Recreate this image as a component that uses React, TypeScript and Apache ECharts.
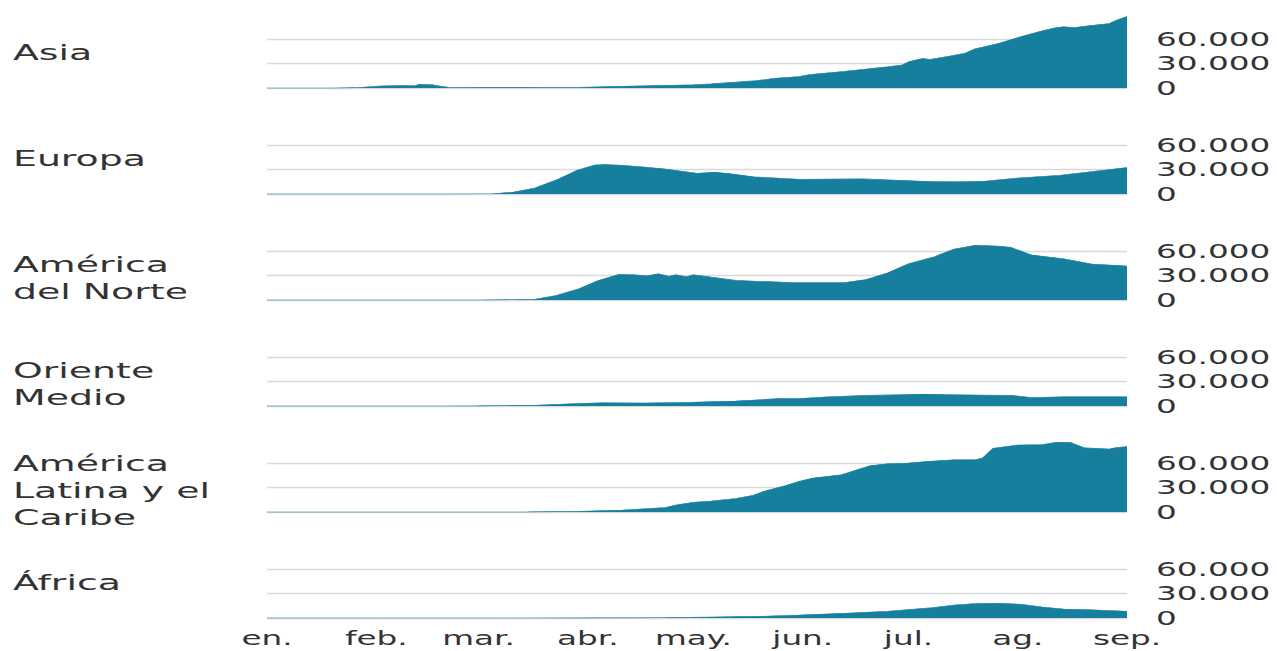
import React, { useEffect, useRef } from "react";
import * as echarts from "echarts";

// ---------- data ----------
const regionNames = [
  "Asia",
  "Europa",
  "América\ndel Norte",
  "Oriente\nMedio",
  "América\nLatina y el\nCaribe",
  "África",
];

const monthStarts = [
  "2020-01-01", "2020-02-01", "2020-03-01", "2020-04-01", "2020-05-01",
  "2020-06-01", "2020-07-01", "2020-08-01", "2020-09-01",
];
const monthLabels = ["en.", "feb.", "mar.", "abr.", "may.", "jun.", "jul.", "ag.", "sep."];

const yTickValues = [0, 30000, 60000];
const yTickLabels = ["0", "30.000", "60.000"];

const asia: [string, number][] = [
  ["2020-01-01", 0], ["2020-01-20", 50], ["2020-01-26", 400], ["2020-01-30", 1500],
  ["2020-02-03", 2600], ["2020-02-08", 2900], ["2020-02-12", 2800], ["2020-02-13", 4300],
  ["2020-02-17", 4000], ["2020-02-19", 2500], ["2020-02-22", 700], ["2020-03-01", 500],
  ["2020-03-15", 500], ["2020-03-30", 1000], ["2020-04-11", 2000], ["2020-05-01", 4000],
  ["2020-05-06", 5000], ["2020-05-19", 9000], ["2020-05-24", 12000], ["2020-05-31", 14000],
  ["2020-06-03", 16600], ["2020-06-13", 20600], ["2020-06-25", 26000], ["2020-06-29", 28000],
  ["2020-07-01", 32000], ["2020-07-05", 36000], ["2020-07-07", 35000], ["2020-07-14", 40000],
  ["2020-07-17", 42500], ["2020-07-20", 48000], ["2020-07-27", 55000], ["2020-08-02", 63000],
  ["2020-08-08", 70000], ["2020-08-12", 74000], ["2020-08-14", 75000], ["2020-08-17", 74000],
  ["2020-08-23", 77000], ["2020-08-27", 79000], ["2020-08-29", 83000], ["2020-09-01", 87500],
];

const europa: [string, number][] = [
  ["2020-01-01", 0], ["2020-02-20", 0], ["2020-03-05", 300], ["2020-03-11", 2500],
  ["2020-03-17", 7400], ["2020-03-23", 17000], ["2020-03-29", 29000], ["2020-04-03", 35500],
  ["2020-04-06", 36000], ["2020-04-11", 35000], ["2020-04-17", 33000], ["2020-04-23", 30500],
  ["2020-05-02", 25500], ["2020-05-07", 26500], ["2020-05-11", 25000], ["2020-05-18", 21000],
  ["2020-05-31", 18000], ["2020-06-18", 18500], ["2020-07-07", 15200], ["2020-07-15", 15000],
  ["2020-07-23", 16000], ["2020-08-01", 19500], ["2020-08-13", 23000], ["2020-08-24", 28500],
  ["2020-09-01", 32500],
];

const norteamerica: [string, number][] = [
  ["2020-01-01", 0], ["2020-03-01", 50], ["2020-03-12", 500], ["2020-03-17", 900],
  ["2020-03-23", 5500], ["2020-03-29", 13000], ["2020-04-04", 24000], ["2020-04-10", 31500],
  ["2020-04-14", 31000], ["2020-04-18", 29500], ["2020-04-21", 32000], ["2020-04-24", 29000],
  ["2020-04-26", 31000], ["2020-04-29", 28500], ["2020-05-01", 31000], ["2020-05-06", 28000],
  ["2020-05-13", 24000], ["2020-05-19", 23000], ["2020-05-29", 21500], ["2020-06-13", 21500],
  ["2020-06-19", 25000], ["2020-06-25", 33000], ["2020-07-01", 44500], ["2020-07-08", 52500],
  ["2020-07-14", 62500], ["2020-07-20", 67000], ["2020-07-26", 66000], ["2020-07-30", 64500],
  ["2020-08-05", 55000], ["2020-08-14", 50500], ["2020-08-22", 44000], ["2020-09-01", 41500],
];

const orienteMedio: [string, number][] = [
  ["2020-01-01", 0], ["2020-02-20", 0], ["2020-03-01", 200], ["2020-03-17", 800],
  ["2020-03-29", 3000], ["2020-04-05", 4000], ["2020-04-17", 3600], ["2020-04-30", 4500],
  ["2020-05-13", 6000], ["2020-05-25", 9000], ["2020-05-31", 9200], ["2020-06-07", 11000],
  ["2020-06-19", 13000], ["2020-07-05", 14200], ["2020-07-20", 13500], ["2020-07-30", 13000],
  ["2020-08-05", 10500], ["2020-08-14", 11300], ["2020-09-01", 11300],
];

const latinoamerica: [string, number][] = [
  ["2020-01-01", 0], ["2020-03-01", 0], ["2020-03-15", 100], ["2020-03-30", 800],
  ["2020-04-11", 2400], ["2020-04-23", 5500], ["2020-04-26", 8500], ["2020-05-01", 12000],
  ["2020-05-06", 13500], ["2020-05-13", 16500], ["2020-05-18", 20500], ["2020-05-21", 25500],
  ["2020-05-27", 32000], ["2020-05-31", 37500], ["2020-06-04", 41500], ["2020-06-12", 45500],
  ["2020-06-16", 51000], ["2020-06-20", 56500], ["2020-06-25", 59000], ["2020-07-01", 60000],
  ["2020-07-07", 62000], ["2020-07-14", 64000], ["2020-07-20", 64000], ["2020-07-22", 66000],
  ["2020-07-25", 78000], ["2020-08-01", 82000], ["2020-08-08", 82500], ["2020-08-12", 85500],
  ["2020-08-16", 85000], ["2020-08-20", 78500], ["2020-08-27", 77000], ["2020-08-29", 79000],
  ["2020-09-01", 80000],
];

const africa: [string, number][] = [
  ["2020-01-01", 0], ["2020-03-15", 0], ["2020-04-01", 100], ["2020-04-23", 400],
  ["2020-05-06", 1200], ["2020-05-19", 2000], ["2020-05-31", 3700], ["2020-06-13", 5700],
  ["2020-06-25", 8200], ["2020-07-08", 12700], ["2020-07-14", 16000], ["2020-07-20", 17700],
  ["2020-07-27", 18000], ["2020-08-02", 16800], ["2020-08-08", 13500], ["2020-08-14", 11000],
  ["2020-08-20", 10500], ["2020-09-01", 8200],
];

const seriesData = [asia, europa, norteamerica, orienteMedio, latinoamerica, africa];

// ---------- layout / style ----------
const W = 1277;
const H = 651;
const K = 1.72; // horizontal stretch of the reference
const LW = W / K;
const PLOT_LEFT = 267;
const PLOT_RIGHT = 1127;
const FIRST_ZERO = 88;
const STEP = 106;
const PANEL_H = 49; // 0 -> 60.000
const AREA = "#177f9e";
const GRID_LINE = "#d9d9d9";
const TEXT = "#333333";
const FONT = "DejaVu Sans";

const toTs = (s: string) => Date.parse(s + "T00:00:00Z");
const monthTs = monthStarts.map(toTs);
const xMin = monthTs[0];
const xMax = monthTs[monthTs.length - 1];

function buildOption() {
  const grids: any[] = [];
  const xAxes: any[] = [];
  const yAxes: any[] = [];
  const series: any[] = [];
  const graphics: any[] = [];

  seriesData.forEach((d, i) => {
    const zero = FIRST_ZERO + i * STEP;
    const last = i === seriesData.length - 1;
    grids.push({
      left: PLOT_LEFT / K,
      width: (PLOT_RIGHT - PLOT_LEFT) / K,
      top: zero - PANEL_H,
      height: PANEL_H,
      containLabel: false,
    });
    xAxes.push({
      type: "value",
      gridIndex: i,
      min: xMin,
      max: xMax,
      axisLine: { show: false },
      axisTick: { show: false },
      splitLine: { show: false },
      axisLabel: {
        show: last,
        customValues: monthTs,
        margin: 11,
        fontSize: 19,
        fontFamily: FONT,
        color: TEXT,
        hideOverlap: false,
        showMinLabel: true,
        showMaxLabel: true,
        formatter: (v: number) => {
          const idx = monthTs.indexOf(v);
          return idx >= 0 ? monthLabels[idx] : "";
        },
      },
    });
    yAxes.push({
      type: "value",
      gridIndex: i,
      position: "right",
      min: 0,
      max: 60000,
      interval: 30000,
      axisLine: { show: false },
      axisTick: { show: false },
      splitLine: { show: true, lineStyle: { color: GRID_LINE, width: 1.3 } },
      axisLabel: {
        margin: (1156 - PLOT_RIGHT) / K,
        fontSize: 19,
        fontFamily: FONT,
        color: TEXT,
        formatter: (v: number) => {
          const idx = yTickValues.indexOf(v);
          return idx >= 0 ? yTickLabels[idx] : "";
        },
      },
    });
    series.push({
      type: "line",
      name: regionNames[i].replace(/\n/g, " "),
      xAxisIndex: i,
      yAxisIndex: i,
      data: d.map(([s, v]) => [toTs(s), v]),
      showSymbol: false,
      symbol: "none",
      clip: false,
      lineStyle: { width: 0.6, color: AREA },
      areaStyle: { color: AREA, opacity: 1 },
      z: 3,
    });
    const lines = regionNames[i].split("\n").length;
    graphics.push({
      type: "text",
      x: 13 / K,
      y: lines === 1 ? zero - 36 : zero - 22,
      style: {
        text: regionNames[i],
        fill: TEXT,
        fontSize: 22,
        fontFamily: FONT,
        lineHeight: 27,
        align: "left",
        verticalAlign: "middle",
      },
    });
  });

  return {
    animation: false,
    backgroundColor: "#ffffff",
    grid: grids,
    xAxis: xAxes,
    yAxis: yAxes,
    series,
    graphic: graphics,
    textStyle: { fontFamily: FONT },
  };
}

export default function App() {
  const ref = useRef<HTMLDivElement | null>(null);
  useEffect(() => {
    if (!ref.current) return;
    const chart = echarts.init(ref.current, null, { renderer: "svg" });
    chart.setOption(buildOption());
    return () => chart.dispose();
  }, []);
  return (
    <div
      style={{
        position: "absolute",
        left: 0,
        top: 0,
        width: W,
        height: H,
        overflow: "hidden",
        background: "#fff",
      }}
    >
      <div
        ref={ref}
        style={{
          width: LW,
          height: H,
          transform: `scaleX(${K})`,
          transformOrigin: "0 0",
        }}
      />
    </div>
  );
}
